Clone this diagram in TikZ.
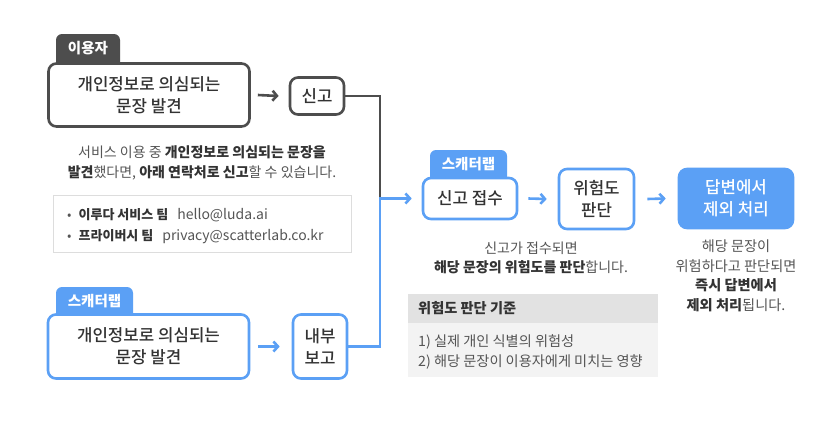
\documentclass[tikz,border=0pt]{standalone}
\usepackage{fontspec}
\setmainfont{Noto Sans CJK KR}
\newfontfamily\medfont{Noto Sans CJK KR Medium}
\usetikzlibrary{arrows.meta}
\definecolor{dk}{HTML}{4D4D4D}
\definecolor{bl}{HTML}{5BA0F5}
\definecolor{tx}{HTML}{333333}
\definecolor{tx2}{HTML}{555555}
\definecolor{cbord}{HTML}{DDDDDD}
\definecolor{chead}{HTML}{E2E2E2}
\definecolor{cbody}{HTML}{F3F3F3}
\begin{document}
\begin{tikzpicture}[x=1pt,y=-1pt,
  box/.style={draw, line width=2.6pt, rounded corners=8pt, fill=white, align=center, text=tx,
    font=\medfont\fontsize{16.8}{22}\selectfont, inner sep=0pt},
  darkbox/.style={box, draw=dk},
  bluebox/.style={box, draw=bl},
  tablabel/.style={text=white, font=\bfseries\fontsize{14.5}{16}\selectfont, inner sep=0pt},
  conn/.style={line width=2.6pt},
  arr/.style={line width=2.6pt, -{Straight Barb[length=4.5pt,width=10pt]}},
  desc/.style={align=center, text=tx2, font=\fontsize{14}{20}\selectfont, inner sep=0pt},
  small/.style={text=tx2, font=\fontsize{13}{22}\selectfont, inner sep=0pt, anchor=west},
  crit/.style={small, font=\fontsize{14.2}{22}\selectfont}
  ]
\useasboundingbox (0,0) rectangle (840,429);
\fill[white] (0,0) rectangle (840,429);

% ---- user row
\fill[dk] (56,72) [rounded corners=6pt] -- (56,34) -- (120,34) [sharp corners] -- (120,72) -- cycle;
\node[tablabel] (tabuser) at (88,48.5) {이용자};
\node[darkbox, minimum width=201pt, minimum height=63pt] (ubox) at (149,95) {개인정보로 의심되는\\문장 발견};
\node[darkbox, minimum width=54pt, minimum height=37pt] (singo) at (317,96) {신고};
\draw[arr, draw=dk] ([xshift=7pt]ubox.east) -- ([xshift=-10pt]singo.west);

% ---- description
\node[desc] (desc1) at (202,163) {서비스 이용 중 {\bfseries\color{tx}개인정보로 의심되는 문장을}\\{\bfseries\color{tx}발견}했다면, {\bfseries\color{tx}아래 연락처로 신고}할 수 있습니다.};
\node[draw=cbord, line width=1.5pt, fill=white, minimum width=298pt, minimum height=57pt, inner sep=0pt] (contact) at (202.5,224) {};
\node[small] (c1) at (67,215) {\textbullet\hspace{7pt}{\bfseries\color{tx}이루다 서비스 팀}\hspace{9pt}{\fontsize{14}{22}\selectfont hello@luda.ai}};
\node[small] (c2) at (67,237) {\textbullet\hspace{7pt}{\bfseries\color{tx}프라이버시 팀}\hspace{9pt}{\fontsize{14}{22}\selectfont privacy@scatterlab.co.kr}};

% ---- scatterlab row
\fill[bl] (56,322) [rounded corners=6pt] -- (56,287) -- (133,287) [sharp corners] -- (133,322) -- cycle;
\node[tablabel] (tabsl1) at (94.5,301.5) {스캐터랩};
\node[bluebox, minimum width=201pt, minimum height=64pt] (sbox) at (148.5,346.5) {개인정보로 의심되는\\문장 발견};
\node[bluebox, minimum width=54pt, minimum height=64pt] (naebu) at (320,346.5) {내부\\보고};
\draw[arr, draw=bl] ([xshift=8pt]sbox.east) -- ([xshift=-12pt]naebu.west);

% ---- middle
\fill[bl] (430,186) [rounded corners=6pt] -- (430,150) -- (507,150) [sharp corners] -- (507,186) -- cycle;
\node[tablabel] (tabsl2) at (468.5,164.5) {스캐터랩};
\node[bluebox, minimum width=94pt, minimum height=41pt] (jeopsu) at (470,198.5) {신고 접수};
\node[bluebox, minimum width=75pt, minimum height=60pt] (wiheom) at (596.5,199) {위험도\\판단};
\node[box, draw=bl, fill=bl, text=white, minimum width=114pt, minimum height=59pt] (final) at (736,198.5) {답변에서\\제외 처리};

\coordinate (J) at (380,198.5);
\draw[conn, draw=dk] (singo.east) -| (J);
\draw[arr, draw=bl] (naebu.east) -| (J) -- ([xshift=-10pt]jeopsu.west);
\draw[arr, draw=bl] ([xshift=10pt]jeopsu.east) -- ([xshift=-11pt]wiheom.west);
\draw[arr, draw=bl] ([xshift=12pt]wiheom.east) -- ([xshift=-12pt]final.west);

% ---- middle text
\node[desc, font=\fontsize{14}{19}\selectfont] (desc2) at (531,257.5) {신고가 접수되면\\{\bfseries\color{tx}해당 문장의 위험도를 판단}합니다.};
\fill[chead] (408,294) rectangle (658,323);
\fill[cbody] (408,323) rectangle (658,377);
\node[crit, text=tx, font=\bfseries\fontsize{14.2}{16}\selectfont] (crith) at (418,308.5) {위험도 판단 기준};
\node[crit] (crit1) at (418,342) {1) 실제 개인 식별의 위험성};
\node[crit] (crit2) at (418,362) {2) 해당 문장이 이용자에게 미치는 영향};

% ---- right text
\node[desc, font=\fontsize{14.2}{19.5}\selectfont] (desc3) at (736,276) {해당 문장이\\위험하다고 판단되면\\{\bfseries\color{tx}즉시 답변에서}\\{\bfseries\color{tx}제외 처리}됩니다.};
\end{tikzpicture}
\end{document}
